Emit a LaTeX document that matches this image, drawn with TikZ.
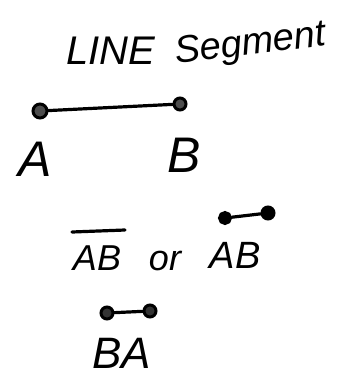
\documentclass[tikz,border=0pt]{standalone}
\usepackage{fontspec}
\setmainfont{Liberation Sans}
\begin{document}
\begin{tikzpicture}[x=1pt,y=-1pt,
  ink/.style={line width=3.2pt,line cap=round,black},
  dot/.style={circle,draw,line width=3pt,fill=black!70,inner sep=0pt,minimum size=#1},
  dot/.default=12pt,
  hand/.style={inner sep=0pt,anchor=base,font=\itshape}]
\useasboundingbox (0,0) rectangle (343,392);
% title
\node[hand,font=\itshape\fontsize{40}{40}\selectfont,anchor=base west] (t1) at (66,64) {LINE};
\node[hand,font=\itshape\fontsize{38}{38}\selectfont,rotate=7,anchor=base west] (t2) at (176,64) {Segment};
% segment AB
\node[dot=14pt] (pa) at (40,111) {};
\node[dot=12pt] (pb) at (180,104) {};
\draw[ink] (pa) -- (pb);
\node[hand,font=\itshape\fontsize{50}{50}\selectfont] (la) at (35,176) {A};
\node[hand,font=\itshape\fontsize{50}{50}\selectfont] (lb) at (184,172) {B};
% AB or AB
\node[hand,font=\itshape\fontsize{36}{36}\selectfont] (ab1) at (97,270) {AB};
\coordinate (bar1) at (72,232);
\coordinate (bar2) at (125,230);
\draw[ink] (bar1) -- (bar2);
\node[hand,font=\itshape\fontsize{36}{36}\selectfont] (or) at (165,270) {or};
\node[hand,font=\itshape\fontsize{38}{38}\selectfont] (ab2) at (235,268) {AB};
\node[dot=11pt,fill=black] (r1) at (225,218) {};
\node[dot=12pt,fill=black] (r2) at (268,213) {};
\draw[ink] (r1) -- (r2);
% BA
\node[dot=12pt,fill=black!80] (s1) at (107,313) {};
\node[dot=12pt,fill=black!80] (s2) at (150,311) {};
\draw[ink] (s1) -- (s2);
\node[hand,font=\itshape\fontsize{44}{44}\selectfont] (ba) at (122,368) {BA};
\end{tikzpicture}
\end{document}
